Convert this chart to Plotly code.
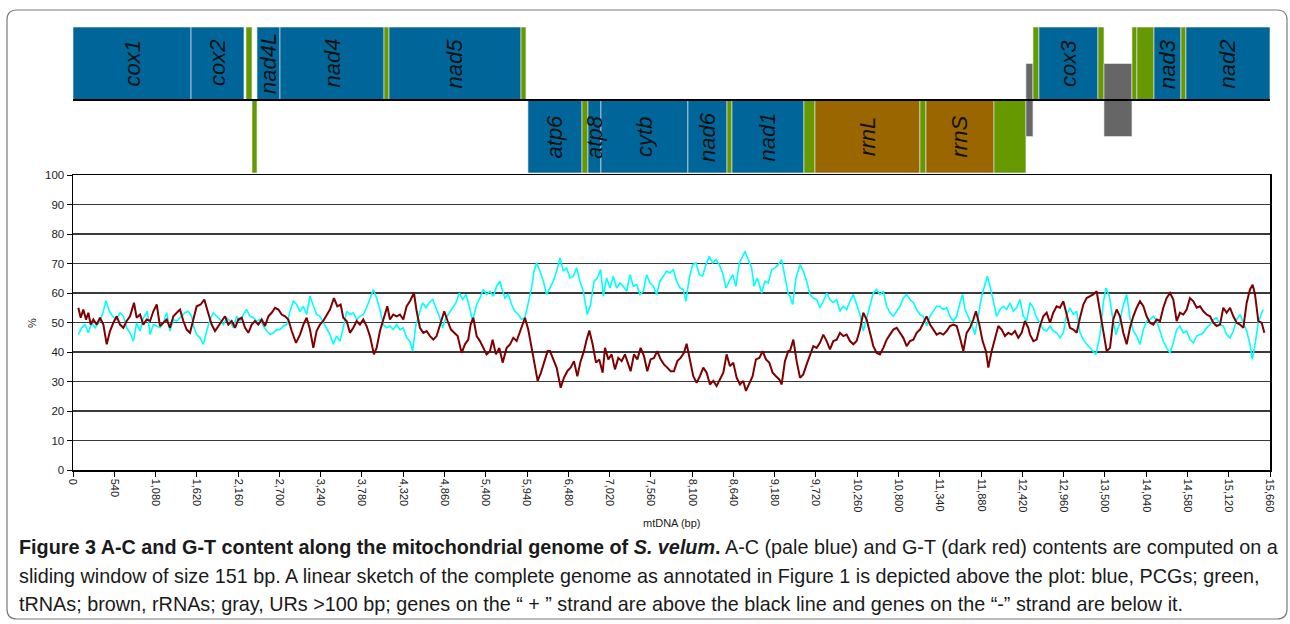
import plotly.graph_objects as go

# ---------------- data: sliding-window composition (%) ----------------
ac_bp = [70,114,157,201,244,288,353,397,432,476,519,563,615,659,702,746,790,833,877,920,
         973,1008,1051,1095,1138,1182,1226,1269,1313,1357,1422,1465,1509,1553,1583,1618,1662,1705,1749,1793,
         1836,1880,1923,1967,2011,2054,2098,2142,2185,2229,2272,2316,2360,2403,2447,2490,2534,2578,2621,2665,
         2708,2752,2796,2839,2883,2926,2970,3014,3057,
         3100,3144,3187,3231,3274,3318,3362,3405,3449,3492,3536,3580,3623,3667,3711,3754,3798,3841,3885,3929,
         3972,4016,4059,4103,4147,4190,4234,4277,4321,4365,4408,4443,4487,4530,4574,4618,4661,4705,4748,4792,
         4836,4879,4923,4966,5010,5054,5097,5141,5185,5228,5281,5324,5368,5411,5455,5499,5542,5586,5608,5651,
         5695,5738,5782,5826,5869,5913,5956,6000,6031,6065,6109,6153,6196,
         6240,6284,6327,6371,6414,6458,6502,6545,6589,6632,6676,6728,6772,6816,6859,6903,6938,6981,7025,7069,
         7112,7156,7199,7243,7287,7330,7374,7417,7461,7505,7548,7592,7636,7679,7723,7766,7810,7854,7897,7941,
         7984,8019,8063,8106,8150,8194,8237,8281,8324,8368,8412,8455,8499,8543,8586,8630,8673,8717,8761,8791,
         8835,8878,8909,8953,9009,9053,9096,9140,9184,9227,9271,9314,9358,
         9380,9415,9459,9511,9554,9598,9642,9685,9729,9772,9816,9860,9903,9947,9991,10034,10078,10121,10165,10209,
         10252,10296,10339,10383,10427,10470,10514,10557,10601,10645,10688,10732,10776,10819,10863,10906,10950,10994,11037,11081,
         11124,11168,11212,11255,11299,11342,11386,11430,11473,11517,11561,11604,11639,11670,11713,11757,11800,11844,11888,11931,
         11962,11997,12040,12084,12127,12171,12215,12258,12302,12345,12389,12433,12476,
         12520,12564,12607,12651,12694,12738,12782,12825,12869,12912,12956,13000,13043,13087,13131,13174,13218,13261,13305,13349,
         13383,13436,13479,13514,13558,13602,13645,13689,13732,13785,13828,13872,13916,13959,14003,14046,14090,14134,14177,14221,
         14264,14308,14352,14395,14439,14482,14526,14570,14613,14657,14701,14744,14788,14831,14875,14919,14962,15006,15049,15093,
         15137,15180,15224,15267,15311,15355,15398,15429,15464,15507,15551,15573]
ac_pct = [45.9,48.2,49.3,46.5,49.9,48.2,50.5,53.8,57.4,53.8,52.1,51.0,53.3,52.1,48.2,46.5,43.7,49.9,47.1,51.6,
          53.8,45.9,49.3,48.8,48.2,49.9,53.3,47.1,51.0,50.5,52.1,53.3,53.8,52.1,48.2,45.9,44.8,42.6,47.1,51.0,
          53.3,52.1,51.0,49.3,51.6,50.5,48.2,52.1,50.5,52.7,54.4,52.1,51.6,50.5,51.0,48.8,47.1,45.9,46.5,47.6,
          47.6,48.8,49.3,53.8,57.2,56.1,53.8,55.5,52.7,
          58.9,56.1,52.7,52.1,49.9,48.2,45.9,42.6,45.4,43.7,48.2,53.8,52.7,53.3,51.0,52.1,52.7,55.0,57.8,61.2,
          58.3,54.4,49.3,48.2,48.8,47.6,49.3,47.6,48.2,44.8,43.7,40.3,49.3,52.7,56.7,55.0,56.7,57.8,55.0,52.1,
          48.2,51.6,53.3,55.0,56.7,60.0,57.8,59.5,55.5,50.5,56.1,58.3,61.2,59.5,60.6,58.9,62.3,64.0,61.7,58.3,
          59.5,56.1,53.8,52.7,51.0,51.6,56.1,61.7,67.4,70.2,67.4,64.0,59.5,
          61.7,64.0,67.4,71.9,67.4,68.5,65.1,65.7,68.5,64.0,60.6,52.7,56.1,64.0,65.1,67.9,58.9,65.1,61.7,65.7,
          61.7,63.4,62.3,60.6,66.2,62.3,62.9,59.5,60.6,66.2,63.4,62.3,59.5,64.0,65.7,67.4,66.8,67.9,64.0,61.7,
          61.2,57.2,65.1,69.6,70.2,66.2,65.7,69.6,72.4,70.2,71.3,69.6,66.8,61.7,64.0,66.2,62.3,70.2,72.4,74.1,
          71.3,68.5,62.3,65.1,60.0,64.0,63.4,67.9,68.5,69.6,71.3,65.1,59.5,
          58.9,56.1,65.1,69.6,67.4,64.0,59.5,58.3,57.8,55.0,57.2,60.0,57.8,56.7,57.8,53.8,55.5,54.4,57.2,59.5,
          56.1,52.7,47.1,51.6,55.5,60.0,61.2,59.5,60.6,55.5,53.3,52.1,53.8,55.5,58.3,59.5,57.8,56.7,54.4,52.7,
          52.1,48.8,52.1,53.8,55.5,55.5,54.4,55.0,52.1,50.5,52.1,56.7,59.5,54.4,52.1,49.3,45.9,52.1,58.9,62.9,
          65.7,62.3,56.7,52.1,54.4,55.5,54.4,56.7,53.8,55.0,57.8,52.1,50.5,
          56.7,55.0,51.6,49.9,47.6,47.1,48.8,47.1,46.5,44.8,46.5,52.7,55.0,52.7,53.8,46.5,44.2,42.6,41.4,40.3,
          39.2,45.9,56.7,61.7,58.9,51.6,45.9,49.3,55.0,59.5,51.6,47.1,45.4,42.6,47.6,50.5,51.0,52.1,50.5,47.1,
          43.7,41.4,39.7,43.1,47.6,48.8,46.5,47.1,44.2,43.1,45.4,45.9,46.5,48.2,49.3,51.0,51.6,49.3,48.8,45.9,
          44.8,47.1,51.0,52.7,49.9,47.1,42.6,37.5,42.6,49.9,53.3,54.4]

gt_bp = [70,101,135,170,201,231,266,310,353,397,441,484,528,572,615,659,702,746,798,833,
         877,920,964,1008,1051,1095,1138,1182,1226,1269,1313,1357,1400,1444,1487,1531,1575,1618,1670,1718,
         1762,1814,1858,1902,1945,1989,2032,2076,2120,2163,2207,2251,2294,2338,2381,2425,2469,2512,2556,2599,
         2643,2687,2730,2774,2817,2861,2918,2970,3014,3057,
         3100,3144,3187,3231,3274,3318,3362,3414,3458,3501,3536,3580,3623,3667,3711,3754,3798,3841,3885,3937,
         3972,4016,4059,4112,4147,4190,4234,4277,4321,4365,4408,4461,4496,4539,4583,4626,4670,4714,4757,4801,
         4857,4901,4945,4988,5032,5084,5128,5171,5202,5237,5281,5324,5368,5411,5455,5490,5533,5577,5621,5673,
         5717,5760,5804,5847,5913,5956,6000,6044,6079,6122,6166,6209,
         6240,6284,6327,6380,6423,6467,6510,6554,6598,6641,6685,6720,6755,6798,6842,6885,6929,6960,7003,7047,
         7090,7134,7178,7221,7265,7295,7339,7383,7426,7470,7513,7557,7601,7644,7688,7731,7775,7819,7862,7906,
         7949,7993,8028,8072,8115,8159,8202,8246,8290,8333,8377,8420,8464,8508,8551,8595,8638,8682,8726,8769,
         8804,8848,8891,8935,8979,9022,9066,9109,9153,9197,9240,9271,9314,9358,
         9380,9424,9467,9511,9554,9598,9642,9685,9729,9772,9816,9860,9903,9947,9991,10034,10078,10121,10165,10209,
         10252,10296,10339,10383,10427,10470,10514,10557,10601,10645,10688,10732,10776,10819,10863,10906,10950,10994,11037,11081,
         11124,11168,11212,11255,11299,11342,11386,11430,11473,11517,11561,11604,11648,11691,11735,11778,11813,11857,11900,11944,
         11975,12018,12062,12106,12149,12193,12236,12280,12323,12367,12411,12454,12498,
         12520,12564,12607,12651,12694,12738,12782,12825,12869,12912,12956,13000,13043,13087,13131,13174,13218,13261,13305,13349,
         13392,13436,13479,13523,13567,13610,13654,13697,13741,13785,13828,13872,13916,13959,14003,14046,14090,14134,14177,14221,
         14264,14308,14352,14395,14439,14482,14526,14570,14613,14657,14701,14744,14788,14831,14875,14919,14962,15006,15049,15093,
         15137,15180,15224,15267,15311,15355,15398,15433,15464,15507,15551,15586]
gt_pct = [55.0,51.6,54.4,51.0,53.3,49.3,51.0,49.3,51.6,49.3,42.6,47.1,49.9,52.1,49.3,48.2,50.5,52.1,56.7,51.6,
          52.7,49.3,51.0,50.5,53.8,56.1,48.8,49.9,51.0,48.2,52.1,53.3,54.4,50.5,47.6,46.5,51.6,55.5,56.1,57.8,
          53.8,49.3,47.1,48.8,50.5,52.1,49.3,50.5,48.2,51.0,51.6,48.2,46.5,49.3,50.5,49.3,51.0,48.8,52.1,53.3,
          55.0,54.4,52.7,52.1,51.0,47.1,43.1,45.9,49.3,51.6,
          47.6,41.4,47.1,49.3,50.5,52.7,54.4,58.3,55.5,56.1,51.6,50.5,46.5,48.2,50.5,49.3,51.0,48.8,45.4,39.2,
          41.4,47.1,51.0,55.5,51.0,52.7,52.1,52.7,51.0,55.5,57.2,60.0,53.8,48.2,46.5,47.1,45.4,44.2,45.4,48.8,
          53.8,50.5,47.6,46.5,45.4,39.7,42.6,44.2,49.3,51.6,45.4,43.7,41.4,39.2,40.3,44.2,39.2,41.4,36.4,41.4,
          42.6,44.8,43.7,47.1,51.6,47.6,41.4,34.7,30.2,33.0,36.9,40.3,
          40.3,37.5,34.7,27.9,31.3,33.5,34.7,36.9,31.8,36.9,40.3,44.2,47.3,42.6,36.4,37.5,33.0,41.4,37.5,39.2,
          34.1,38.0,36.9,39.2,35.8,33.5,39.2,37.5,41.4,38.6,33.5,37.5,38.0,40.3,37.5,35.8,34.7,33.5,33.5,36.9,
          38.0,39.7,42.8,36.9,31.8,29.6,31.8,34.7,33.0,29.0,30.2,28.5,30.7,33.0,39.2,35.2,36.4,31.3,29.0,30.2,
          26.8,29.6,31.8,37.5,38.0,40.3,37.5,36.4,33.0,31.8,30.7,29.0,36.9,40.3,
          40.3,44.2,36.9,31.3,32.4,35.8,39.2,42.0,41.4,43.1,45.9,43.7,40.9,43.7,44.2,46.5,45.4,45.9,43.7,42.6,
          43.7,47.6,53.3,51.0,46.5,42.0,39.7,39.2,41.4,44.2,45.9,47.6,48.2,46.5,44.8,42.0,43.7,44.2,46.5,47.6,
          49.9,52.1,49.3,47.6,45.9,46.5,45.9,47.1,48.8,49.3,48.8,44.8,40.3,46.5,48.2,51.0,53.8,49.3,43.7,40.3,
          34.7,40.3,44.2,48.8,47.6,45.4,46.5,45.9,47.1,44.8,46.5,50.5,48.2,
          45.9,43.7,44.2,48.8,52.1,53.3,49.9,53.3,55.5,55.0,57.2,52.7,48.2,47.6,46.5,51.6,56.1,58.3,58.9,59.5,
          60.6,53.8,45.9,40.3,41.4,51.0,54.4,52.1,46.5,42.6,48.2,52.1,55.0,57.2,55.5,52.1,49.9,49.3,51.0,50.5,
          55.0,58.3,60.0,57.8,50.5,53.3,52.7,54.4,58.3,57.2,55.0,55.5,53.8,52.7,52.1,49.9,48.8,49.3,55.0,53.3,
          55.0,52.1,49.9,49.3,48.2,56.7,61.2,62.8,59.5,50.5,49.9,46.5]

# ---------------- data: linear genome map ----------------
feat_label = ["cox1", "cox2", "", "", "nad4L", "nad4", "", "nad5", "",
              "atp6", "", "atp8", "cytb", "nad6", "", "nad1", "", "rrnL", "", "rrnS", "", "",
              "", "cox3", "", "", "", "", "nad3", "", "nad2"]
feat_start = [0, 1544, 2263, 2342, 2407, 2708, 4069, 4134, 5861,
              5952, 6659, 6737, 6907, 8045, 8556, 8621, 9563, 9707, 11080, 11159, 12049, 12467,
              12559, 12637, 13409, 13488, 13854, 13919, 14142, 14495, 14560]
feat_end = [1544, 2237, 2342, 2407, 2708, 4069, 4134, 5861, 5926,
            6659, 6737, 6907, 8045, 8556, 8621, 9563, 9707, 11080, 11159, 12049, 12467, 12559,
            12637, 13409, 13488, 13854, 13919, 14142, 14495, 14560, 15660]
feat_strand = ["+", "+", "+", "-", "+", "+", "+", "+", "+",
               "-", "-", "-", "-", "-", "-", "-", "-", "-", "-", "-", "-", "UR",
               "+", "+", "+", "UR", "+", "+", "+", "+", "+"]
feat_kind = ["PCG", "PCG", "tRNA", "tRNA", "PCG", "PCG", "tRNA", "PCG", "tRNA",
             "PCG", "tRNA", "PCG", "PCG", "PCG", "tRNA", "PCG", "tRNA", "rRNA", "tRNA", "rRNA", "tRNA", "UR",
             "tRNA", "PCG", "tRNA", "UR", "tRNA", "tRNA", "PCG", "tRNA", "PCG"]

genome_len = 15660
x_tick_step = 540

# ---------------- styling ----------------
kind_color = {"PCG": "#006699", "tRNA": "#669900", "rRNA": "#996600", "UR": "#666666"}
strand_span = {"+": (0.0, 1.0), "-": (-1.0, 0.0), "UR": (-0.5, 0.5)}

W, H = 1290, 624
ML, MR, MT, MB = 73, 20, 27, 154
PW, PH = W - ML - MR, H - MT - MB


def pxx(px):
    return (px - ML) / PW


def pxy(py):
    return (H - MB - py) / PH


FONT = "Liberation Sans, Arial, sans-serif"

fig = go.Figure()
fig.add_trace(go.Scatter(x=ac_bp, y=ac_pct, mode="lines", name="A-C",
                         line=dict(color="#00FFFF", width=1.6), hoverinfo="skip"))
fig.add_trace(go.Scatter(x=gt_bp, y=gt_pct, mode="lines", name="G-T",
                         line=dict(color="#7F0000", width=2.0), hoverinfo="skip"))

shapes = []
annotations = []
for lab, s, e, st, k in zip(feat_label, feat_start, feat_end, feat_strand, feat_kind):
    y0, y1 = strand_span[st]
    shapes.append(dict(type="rect", xref="x", yref="y2", x0=s, x1=e, y0=y0, y1=y1,
                       fillcolor=kind_color[k], line=dict(color="rgba(225,235,240,0.8)", width=0.8),
                       layer="above"))
    if lab:
        annotations.append(dict(x=(s + e) / 2, y=(y0 + y1) / 2, xref="x", yref="y2",
                                text="<i>%s</i>" % lab, textangle=-90, showarrow=False,
                                font=dict(family=FONT, size=22, color="#111111"),
                                xanchor="center", yanchor="middle"))
# strand separator line
shapes.append(dict(type="line", xref="x", yref="y2", x0=0, x1=genome_len, y0=0, y1=0,
                   line=dict(color="#000000", width=2.2), layer="above"))

# rounded outer frame
fx0, fx1 = pxx(7), pxx(1287)
fy0, fy1 = pxy(619), pxy(10)
rx, ry = 10 / PW, 10 / PH
frame_path = ("M {a},{t} L {b},{t} Q {x1},{t} {x1},{t2} L {x1},{b2} Q {x1},{y0} {b},{y0} "
              "L {a},{y0} Q {x0},{y0} {x0},{b2} L {x0},{t2} Q {x0},{t} {a},{t} Z").format(
    a=fx0 + rx, b=fx1 - rx, t=fy1, t2=fy1 - ry, b2=fy0 + ry, x0=fx0, x1=fx1, y0=fy0)
shapes.append(dict(type="path", xref="paper", yref="paper", path=frame_path,
                   line=dict(color="#7a7a7a", width=1.2), fillcolor="rgba(0,0,0,0)", layer="below"))

# axis titles
annotations.append(dict(x=0.5, y=pxy(523), xref="paper", yref="paper", text="mtDNA (bp)",
                        showarrow=False, font=dict(family=FONT, size=11, color="#222222"),
                        xanchor="center", yanchor="middle"))
annotations.append(dict(x=pxx(32), y=pxy(323), xref="paper", yref="paper", text="%",
                        textangle=-90, showarrow=False, font=dict(family=FONT, size=11, color="#222222"),
                        xanchor="center", yanchor="middle"))

# caption
cap_lines = [
    "<b>Figure 3 A-C and G-T content along the mitochondrial genome of <i>S. velum</i>.</b> "
    "A-C (pale blue) and G-T (dark red) contents are computed on a",
    "sliding window of size 151 bp. A linear sketch of the complete genome as annotated in Figure 1 "
    "is depicted above the plot: blue, PCGs; green,",
    "tRNAs; brown, rRNAs; gray, URs &gt;100 bp; genes on the \u201c + \u201d strand are above the black line "
    "and genes on the \u201c-\u201d strand are below it.",
]
cap_y = [547, 576, 604]
for txt, yy in zip(cap_lines, cap_y):
    annotations.append(dict(x=pxx(17), y=pxy(yy), xref="paper", yref="paper", text=txt,
                            showarrow=False, align="left", xanchor="left", yanchor="middle",
                            font=dict(family=FONT, size=19.8, color="#1a1a1a")))

fig.update_layout(
    width=W, height=H,
    margin=dict(l=ML, r=MR, t=MT, b=MB, pad=0),
    paper_bgcolor="white", plot_bgcolor="white",
    showlegend=False,
    font=dict(family=FONT, size=11, color="#222222"),
    shapes=shapes, annotations=annotations,
    xaxis=dict(range=[0, genome_len], tick0=0, dtick=x_tick_step, tickformat=",d", tickangle=90,
               ticks="outside", ticklen=5, tickwidth=1, tickcolor="#000000",
               showline=True, linecolor="#000000", linewidth=1.5, mirror=True,
               showgrid=False, zeroline=False, tickfont=dict(size=11, color="#222222"),
               anchor="y", domain=[0, 1]),
    yaxis=dict(range=[0, 100], dtick=10, ticks="outside", ticklen=5, tickwidth=1, tickcolor="#000000",
               showline=True, linecolor="#000000", linewidth=1.5, mirror=True,
               showgrid=True, gridcolor="#3a3a3a", gridwidth=1.5, zeroline=False,
               tickfont=dict(size=11.5, color="#222222"), domain=[0, pxy(175)], anchor="x"),
    yaxis2=dict(range=[-75 / 73, 1.0], domain=[pxy(175), 1.0], visible=False, anchor="x",
                fixedrange=True),
)

fig.write_html("out.html", config={"displayModeBar": False, "staticPlot": True},
               post_script="document.body.style.margin='0px';document.body.style.overflow='hidden';")
